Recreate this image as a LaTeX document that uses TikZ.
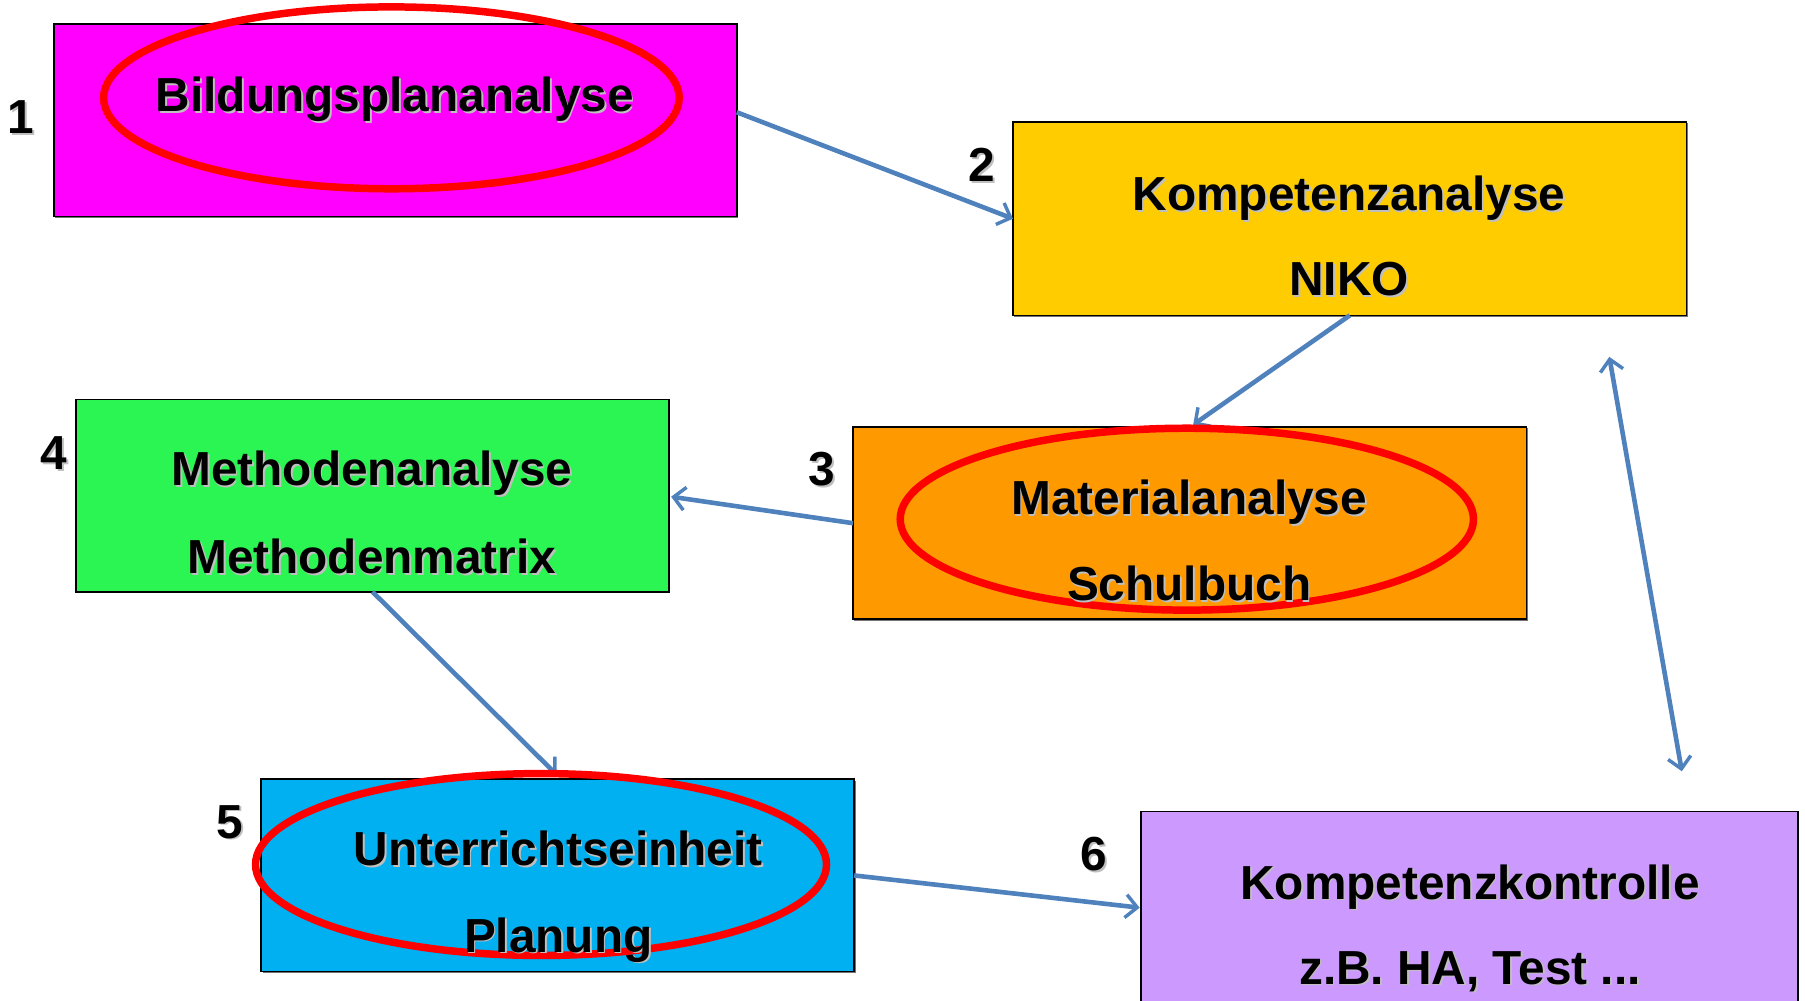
\documentclass[tikz,border=0pt]{standalone}
\usepackage{fontspec}
\setmainfont{Liberation Sans}
\usetikzlibrary{arrows.meta,calc,shapes.geometric,shadows}
\definecolor{cmag}{RGB}{255,0,255}
\definecolor{cyel}{RGB}{255,204,0}
\definecolor{cora}{RGB}{255,153,0}
\definecolor{cgre}{RGB}{43,245,83}
\definecolor{cblu}{RGB}{0,176,240}
\definecolor{clil}{RGB}{204,153,255}
\definecolor{cred}{RGB}{255,0,0}
\definecolor{carr}{RGB}{79,129,189}
\newcommand\shtext[1]{\makebox[0pt][l]{\hspace{1.5pt}\raisebox{-1.5pt}{\textcolor{black!25}{#1}}}#1}
\tikzset{
  box/.style={draw=black, line width=1.5pt, inner sep=0pt, outer sep=0pt, anchor=north west,
    drop shadow={shadow xshift=1.2pt, shadow yshift=-1.2pt, fill=black!55, opacity=1}},
  ring/.style={ellipse, draw=cred, line width=6.5pt, inner sep=0pt, outer sep=0pt},
  txt/.style={font=\fontsize{41.5}{48}\selectfont\bfseries, anchor=base, inner sep=0pt},
  conn/.style={draw=carr, line width=4pt, -{Straight Barb[length=10pt,width=20pt,line width=3pt]}},
  dconn/.style={draw=carr, line width=4pt, {Straight Barb[length=10pt,width=20pt,line width=3pt]}-{Straight Barb[length=10pt,width=20pt,line width=3pt]}}
}
\begin{document}
\begin{tikzpicture}[x=1pt,y=-1pt]
\useasboundingbox (0,0) rectangle (1568,869);
% boxes
\node[box, fill=cmag, minimum width=593pt, minimum height=167pt] (b1) at (47,21) {};
\node[box, fill=cyel, minimum width=585pt, minimum height=168pt] (b2) at (880,106) {};
\node[box, fill=cora, minimum width=585pt, minimum height=167pt] (b3) at (741,371) {};
\node[box, fill=cgre, minimum width=515pt, minimum height=167pt] (b4) at (66,347) {};
\node[box, fill=cblu, minimum width=515pt, minimum height=167pt] (b5) at (227,677) {};
\node[box, fill=clil, minimum width=571pt, minimum height=167pt] (b6) at (991,705) {};
% connectors
\draw[conn] ($(b1.east)+(0,-7)$) -- (b2.west);
\draw[conn] (b2.south) -- ($(b3.north)+(3,-2)$);
\draw[conn] (b3.west) -- ($(b4.east)+(2,1)$);
\draw[conn] (b4.south) -- ($(b5.north)+(-1,-4)$);
\draw[conn] (b5.east) -- ($(b6.west)+(-1,0)$);
\coordinate (d1) at (1398,310);
\coordinate (d2) at (1461,670);
\draw[dconn] (d1) -- (d2);
% red rings
\node[ring, minimum width=500pt, minimum height=158pt] (e1) at (340,85) {};
\node[ring, minimum width=498pt, minimum height=158pt] (e3) at (1031,451) {};
\node[ring, minimum width=496pt, minimum height=158pt] (e5) at (470,751) {};
% texts
\node[txt] (t1) at (343,97) {\shtext{Bildungsplananalyse}};
\node[txt] (t2a) at (1172,183) {\shtext{Kompetenzanalyse}};
\node[txt] (t2b) at (1172,257) {\shtext{NIKO}};
\node[txt] (t3a) at (1033,447) {\shtext{Materialanalyse}};
\node[txt] (t3b) at (1033,522) {\shtext{Schulbuch}};
\node[txt] (t4a) at (323,422) {\shtext{Methodenanalyse}};
\node[txt] (t4b) at (323,498) {\shtext{Methodenmatrix}};
\node[txt] (t5a) at (485,752) {\shtext{Unterrichtseinheit}};
\node[txt] (t5b) at (485,827) {\shtext{Planung}};
\node[txt] (t6a) at (1277,781) {\shtext{Kompetenzkontrolle}};
\node[txt] (t6b) at (1277,855) {\shtext{z.B. HA, Test ...}};
% numbers
\node[txt] (n1) at (18,116) {\shtext{1}};
\node[txt] (n2) at (853,158) {\shtext{2}};
\node[txt] (n3) at (714,422) {\shtext{3}};
\node[txt] (n4) at (47,408) {\shtext{4}};
\node[txt] (n5) at (200,728) {\shtext{5}};
\node[txt] (n6) at (950,756) {\shtext{6}};
\end{tikzpicture}
\end{document}
